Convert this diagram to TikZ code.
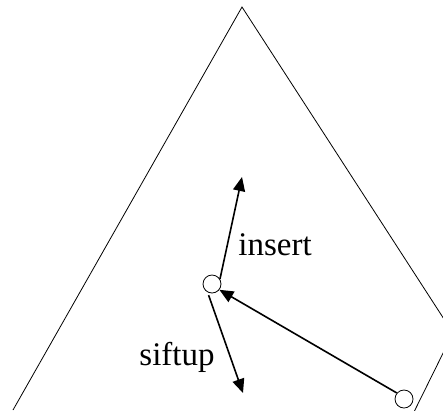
\documentclass[tikz,border=0pt]{standalone}
\usepackage{fontspec}
\setmainfont{Liberation Serif}
\usepackage{tikz}
\usetikzlibrary{arrows.meta,positioning,calc}
\tikzset{
  slot/.style={draw,circle,inner sep=0pt,minimum size=18pt,line width=0.8pt},
  push/.style={line width=1.6pt,-{Triangle[length=14pt,width=12pt]}},
  word/.style={anchor=base,font=\fontsize{33}{40}\selectfont}
}
\begin{document}
\begin{tikzpicture}[x=1pt,y=-1pt]
\useasboundingbox (0,0) rectangle (443,410);
\clip (0,0) rectangle (443,410);
% outline of the heap
\draw[line width=0.8pt] (13,410) -- (242,7) -- (453,333) -- (410,420);
% positions in the heap
\node[slot] (top) at (212,284) {};
\node[slot] (last) at (404,399) {};
\coordinate (up) at (242,177);
\coordinate (down) at (243,393);
% moves
\draw[push] (last.140) -- (top.322);
\draw[push] (top.32) -- (up);
\draw[push,shorten <=3pt] (top.242) -- (down);
% labels
\node[word] (insertlabel) at (275,255) {insert};
\node[word] (siftuplabel) at (177,365) {siftup};
\end{tikzpicture}
\end{document}
